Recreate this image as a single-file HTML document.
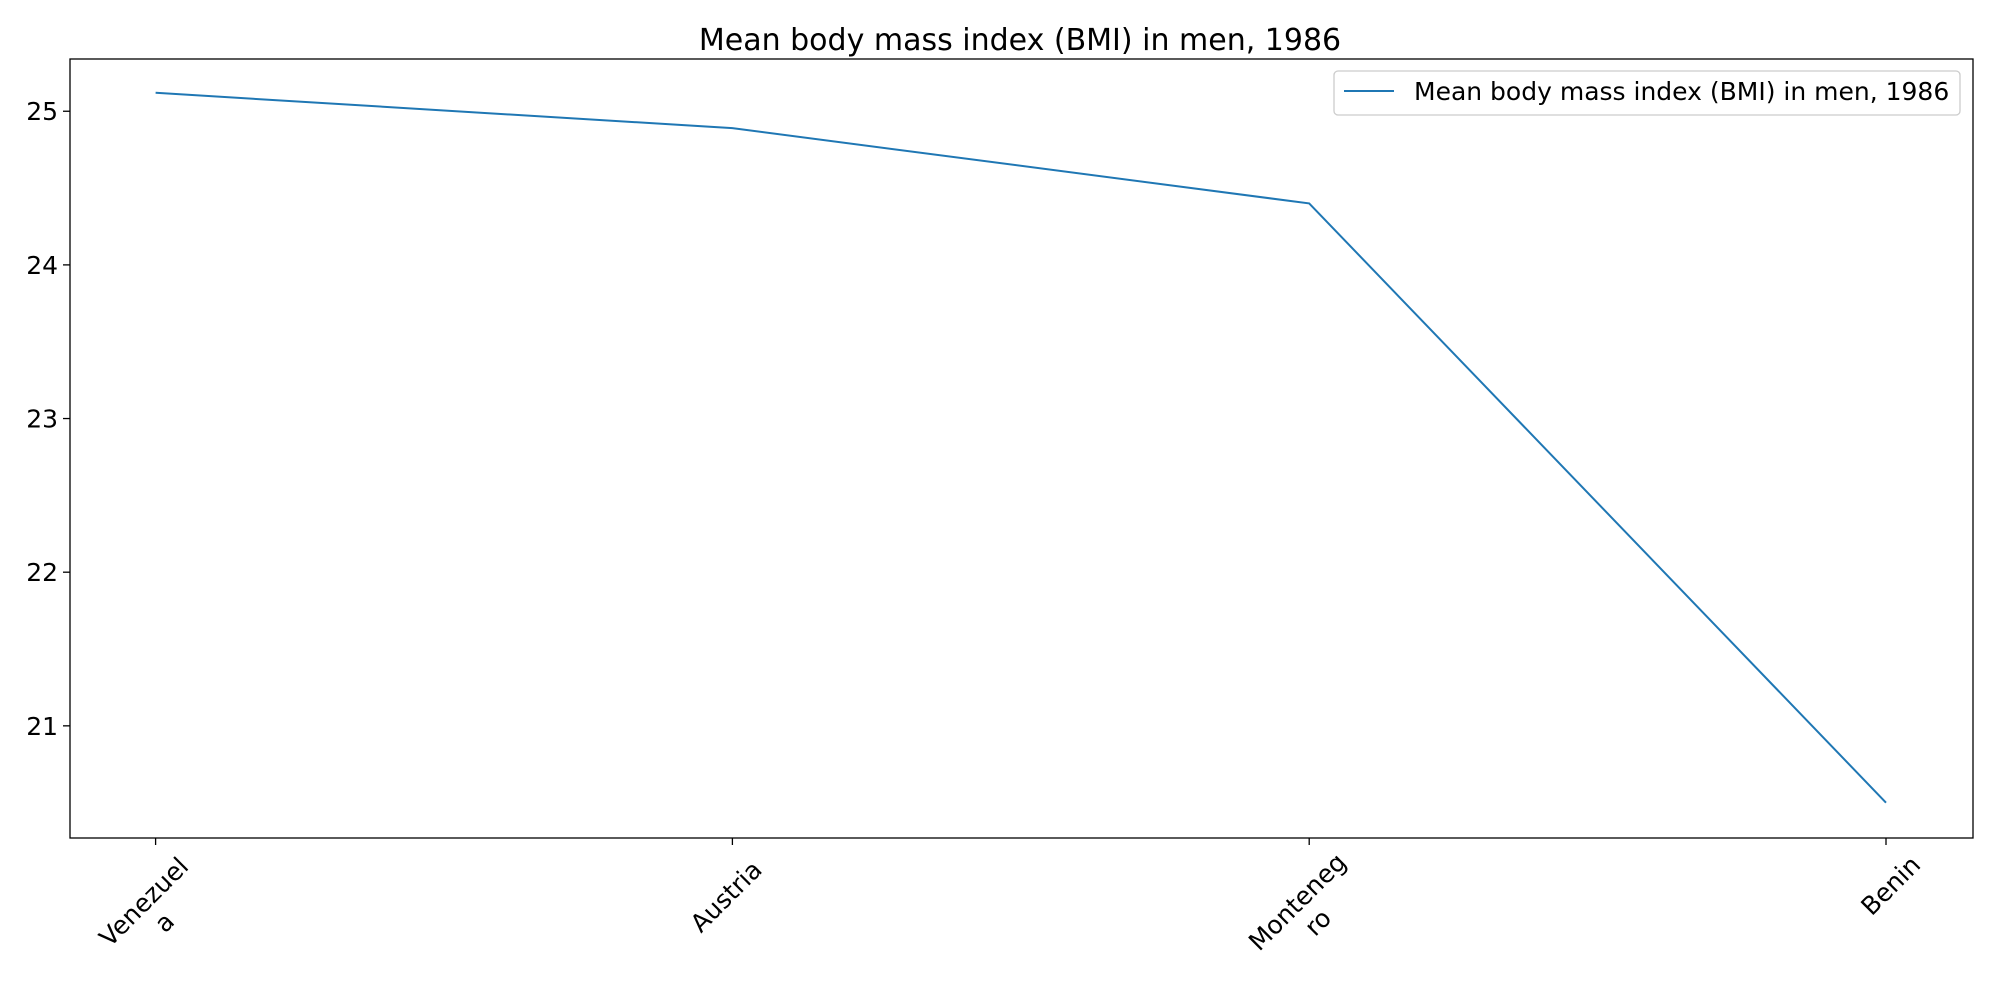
<!DOCTYPE html>
<html><head><meta charset="utf-8"><style>body{margin:0;background:#fff}svg{display:block;font-family:"DejaVu Sans","Liberation Sans",sans-serif}</style></head>
<body>
<svg id="chart" width="2000" height="1000" viewBox="0 0 2000 1000" xmlns="http://www.w3.org/2000/svg">
<text x="1020" y="50" font-size="30" text-anchor="middle">Mean body mass index (BMI) in men, 1986</text>
<g id="plot"></g>
<rect x="70" y="59" width="1903" height="779" fill="none" stroke="#000" stroke-width="1.3"/>
<g>
<rect x="1334" y="71" width="626" height="44" rx="4" fill="#fff" stroke="#ccc" stroke-width="1.3"/>
<line x1="1344" y1="91" x2="1394" y2="91" stroke="#1f77b4" stroke-width="2"/>
<text x="1414" y="100" font-size="25">Mean body mass index (BMI) in men, 1986</text>
</g>
</svg>
<script>
const categories = [["Venezuel","a"],["Austria"],["Monteneg","ro"],["Benin"]];
const values = [25.12, 24.89, 24.40, 20.50];
const yTicks = [21, 22, 23, 24, 25];
const yMin = 20.27, yMax = 25.34;
const L=70,R=1973,T=59,B=838, x0=155.6, x1=1886;
const xs = i => x0 + i*(x1-x0)/(categories.length-1);
const ys = v => B - (v-yMin)/(yMax-yMin)*(B-T);
const NS="http://www.w3.org/2000/svg";
const g=document.getElementById('plot');
function mk(t,a){const e=document.createElementNS(NS,t);for(const k in a)e.setAttribute(k,a[k]);g.appendChild(e);return e;}
yTicks.forEach(v=>{
  const tk=mk('line',{x1:L-7,x2:L,y1:ys(v),y2:ys(v),stroke:'#000','stroke-width':1.3});
  
  
  const t=mk('text',{x:L-12,y:ys(v)+9,'font-size':25,'text-anchor':'end'});
  
  
  t.textContent=v;
});
categories.forEach((c,i)=>{
  const x=xs(i);
  const tk=mk('line',{x1:x,x2:x,y1:B,y2:B+7,stroke:'#000','stroke-width':1.3});
  
  
  const t=mk('text',{'font-size':25,'text-anchor':'middle',transform:`translate(${x+24},${B+12}) rotate(-45)`});
  
  
  const w=c[0].length*15.5;
  c.forEach((s,j)=>{const sp=document.createElementNS(NS,'tspan');sp.setAttribute('x',-w/2);sp.setAttribute('y',20+j*29);sp.textContent=s;t.appendChild(sp);});
});
const pts=values.map((v,i)=>xs(i)+','+ys(v)).join(' ');
const pl=mk('polyline',{points:pts,fill:'none',stroke:'#1f77b4','stroke-width':2});


</script>
</body></html>
